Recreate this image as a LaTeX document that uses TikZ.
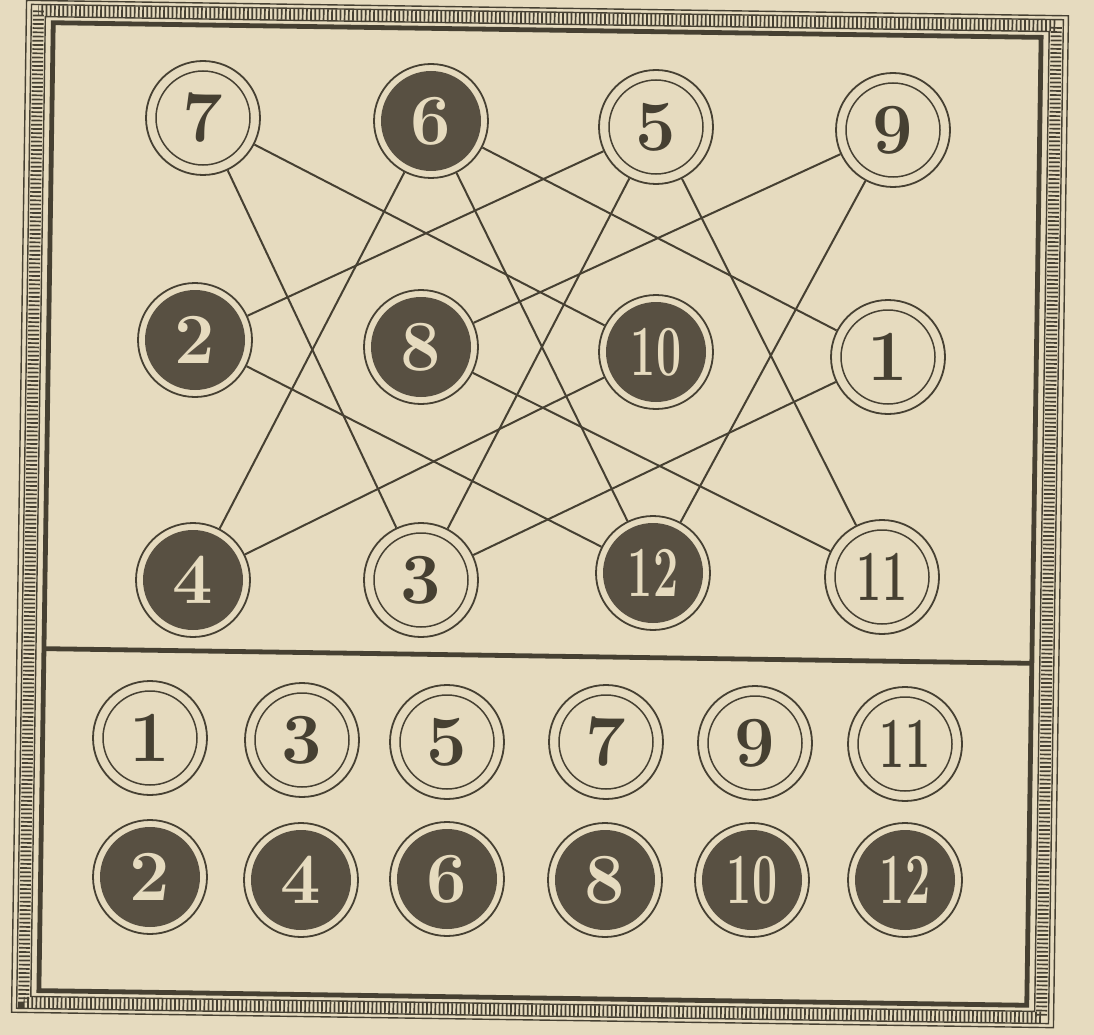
\documentclass[tikz,border=0pt]{standalone}
\usepackage{graphicx}
\definecolor{paper}{RGB}{230,219,191}
\definecolor{ink}{RGB}{70,64,50}
\definecolor{darkfill}{RGB}{88,80,66}
\newcommand\digitfont{\fontsize{72}{72}\selectfont\bfseries}
\newcommand\twodig[1]{\scalebox{0.62}[1]{#1}}
\tikzset{
  lightnum/.style={circle, draw=ink, line width=1.8pt, minimum size=114pt, inner sep=0pt,
    text=ink, font=\digitfont,
    path picture={\draw[ink,line width=1.5pt] (path picture bounding box.center) circle[radius=47pt];}},
  darknum/.style={circle, draw=ink, line width=1.8pt, minimum size=114pt, inner sep=0pt,
    text=paper, font=\digitfont,
    path picture={\fill[darkfill] (path picture bounding box.center) circle[radius=50pt];}},
  link/.style={draw=ink, line width=2pt},
  rail/.style={draw=ink, line width=1.4pt},
  rungs/.style={draw=ink, line width=11pt, dash pattern=on 1.7pt off 2.5pt},
  heavy/.style={draw=ink, line width=4.8pt},
}
\begin{document}
\begin{tikzpicture}[x=1pt,y=-1pt]
\useasboundingbox (0,0) rectangle (1094,1035);
\fill[paper] (0,0) rectangle (1094,1035);
% frame
\begin{scope}[rotate around={-0.85:(540,514)}]
  \draw[rail] (19,8) rectangle (1061,1020);
  \draw[rail] (24,12) rectangle (1056,1016);
  \draw[rail] (38,24) rectangle (1042,1004);
  \draw[rungs] (31,18) rectangle (1049,1010);
  \draw[heavy] (46,30) rectangle (1034,998);
  \coordinate (dl) at (46,656);
  \coordinate (dr) at (1034,656);
\end{scope}
\draw[heavy] (dl) -- (dr);
% top board
\node[lightnum] (t7)  at (203,118) {7};
\node[darknum]  (t6)  at (431,121) {6};
\node[lightnum] (t5)  at (656,127) {5};
\node[lightnum] (t9)  at (893,130) {9};
\node[darknum]  (t2)  at (195,340) {2};
\node[darknum]  (t8)  at (421,347) {8};
\node[darknum]  (t10) at (656,352) {\twodig{10}};
\node[lightnum] (t1)  at (888,357) {1};
\node[darknum]  (t4)  at (193,580) {4};
\node[lightnum] (t3)  at (421,580) {3};
\node[darknum]  (t12) at (653,573) {\twodig{12}};
\node[lightnum] (t11) at (882,577) {\twodig{11}};
% knight connections
\draw[link] (t7) -- (t10);
\draw[link] (t7) -- (t3);
\draw[link] (t6) -- (t1);
\draw[link] (t6) -- (t4);
\draw[link] (t6) -- (t12);
\draw[link] (t5) -- (t2);
\draw[link] (t5) -- (t3);
\draw[link] (t5) -- (t11);
\draw[link] (t9) -- (t8);
\draw[link] (t9) -- (t12);
\draw[link] (t2) -- (t12);
\draw[link] (t8) -- (t11);
\draw[link] (t10) -- (t4);
\draw[link] (t1) -- (t3);
% bottom pieces
\node[lightnum] (b1)  at (150,738) {1};
\node[lightnum] (b3)  at (302,740) {3};
\node[lightnum] (b5)  at (447,742) {5};
\node[lightnum] (b7)  at (606,742) {7};
\node[lightnum] (b9)  at (755,743) {9};
\node[lightnum] (b11) at (905,744) {\twodig{11}};
\node[darknum]  (b2)  at (150,877) {2};
\node[darknum]  (b4)  at (301,880) {4};
\node[darknum]  (b6)  at (447,879) {6};
\node[darknum]  (b8)  at (605,880) {8};
\node[darknum]  (b10) at (752,880) {\twodig{10}};
\node[darknum]  (b12) at (905,880) {\twodig{12}};
\end{tikzpicture}
\end{document}
